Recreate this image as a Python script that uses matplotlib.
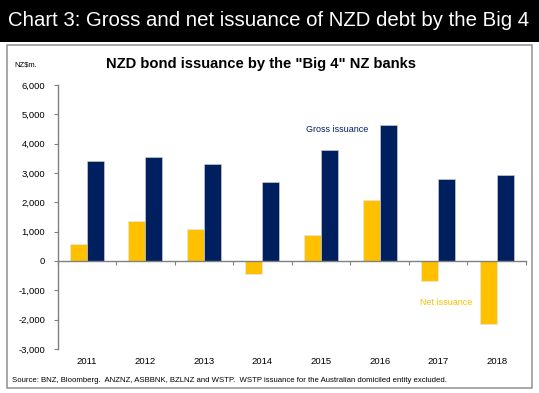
import matplotlib
matplotlib.use('Agg')
import matplotlib.pyplot as plt
import matplotlib.patches as patches
import matplotlib.transforms as transforms
import numpy as np

plt.rcParams['font.family'] = ['Liberation Sans', 'DejaVu Sans']

years = ['2011', '2012', '2013', '2014', '2015', '2016', '2017', '2018']
net_issuance = [580, 1370, 1090, -440, 880, 2080, -690, -2140]
gross_issuance = [3420, 3530, 3290, 2690, 3790, 4650, 2800, 2920]
y_ticks = [-3000, -2000, -1000, 0, 1000, 2000, 3000, 4000, 5000, 6000]

GOLD = '#FFC000'
NAVY = '#001F5F'
GREY = '#808080'

fig = plt.figure(figsize=(5.39, 3.93), dpi=100)

# black title band
fig.patches.append(patches.Rectangle((0, 1 - 42 / 393), 1, 42 / 393, transform=fig.transFigure,
                                     facecolor='black', edgecolor='none', zorder=0))
fig.text(8 / 539, 1 - 21 / 393, 'Chart 3: Gross and net issuance of NZD debt by the Big 4',
         color='white', fontsize=14.7, va='center', ha='left')

# grey panel border
fig.patches.append(patches.Rectangle((7 / 539, 1 - 388 / 393), 525 / 539, 343 / 393,
                                     transform=fig.transFigure, facecolor='none',
                                     edgecolor='#909090', linewidth=1.1, zorder=0))

fig.text(261 / 539, 1 - 64 / 393, 'NZD bond issuance by the "Big 4" NZ banks',
         fontsize=10.6, fontweight='bold', ha='center', va='center')
fig.text(14 / 539, 1 - 65 / 393, 'NZ$m.', fontsize=5.5, ha='left', va='center')
fig.text(12 / 539, 1 - 381 / 393,
         'Source: BNZ, Bloomberg.  ANZNZ, ASBBNK, BZLNZ and WSTP.  WSTP issuance for the Australian domiciled entity excluded.',
         fontsize=5.6, ha='left', va='center')

ax = fig.add_axes([57.5 / 539, 44 / 393, 468.5 / 539, 264 / 393])

x = np.arange(len(years))
w = 0.29
ax.bar(x - w / 2, net_issuance, w, color=GOLD, edgecolor='#e6e6e6', linewidth=0.5, zorder=2)
ax.bar(x + w / 2, gross_issuance, w, color=NAVY, edgecolor='#c8c8c8', linewidth=0.5, zorder=2)

ax.set_xlim(-0.5, len(years) - 0.5)
ax.set_ylim(-3000, 6000)
ax.set_yticks(y_ticks)
ax.set_yticklabels([f'{v:,}' for v in y_ticks], fontsize=6.8)

ax.spines['top'].set_visible(False)
ax.spines['right'].set_visible(False)
ax.spines['bottom'].set_position(('data', 0))
for s in ['left', 'bottom']:
    ax.spines[s].set_color(GREY)
    ax.spines[s].set_linewidth(1)

ax.set_xticks(np.arange(-0.5, len(years), 1))
ax.set_xticklabels([])
ax.tick_params(axis='x', direction='out', length=3, color=GREY)
ax.tick_params(axis='y', direction='out', length=3, color=GREY, pad=6)

trans = transforms.blended_transform_factory(ax.transData, ax.transAxes)
for i, yr in enumerate(years):
    ax.text(i, -12 / 264, yr, transform=trans, fontsize=6.8, ha='center', va='center')

ax.text(4.27, 4470, 'Gross issuance', color=NAVY, fontsize=6.5, ha='center', va='center')
ax.text(6.13, -1430, 'Net issuance', color=GOLD, fontsize=6.5, ha='center', va='center')

fig.savefig('out.png', dpi=100)
